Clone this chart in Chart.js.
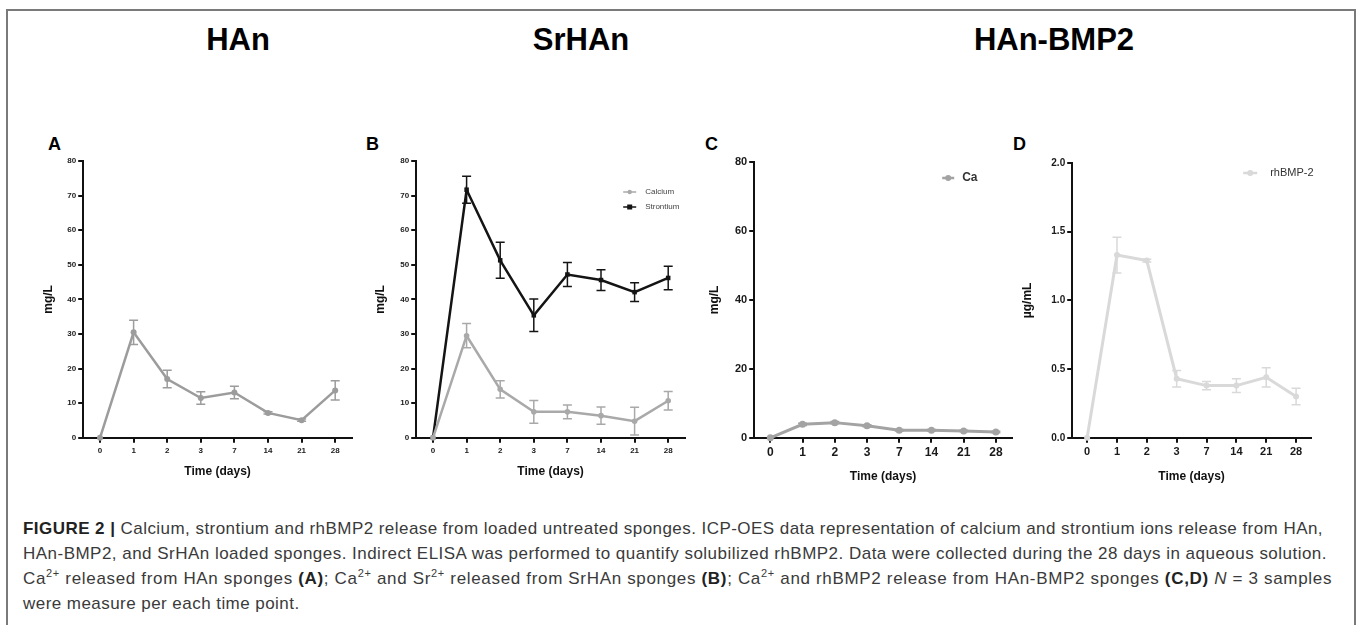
<!DOCTYPE html>
<html>
<head>
<meta charset="utf-8">
<script src="https://cdn.jsdelivr.net/npm/chart.js@4.4.0/dist/chart.umd.min.js"></script>
<style>
  html, body { margin: 0; padding: 0; background: #fff; }
  body { width: 1358px; height: 625px; position: relative; overflow: hidden; font-family: "Liberation Sans", Arial, sans-serif; }
  .frame { position: absolute; left: 6px; top: 9px; width: 1346px; height: 700px; border: 2px solid #7a7a7a; border-bottom: none; }
  .ttl { position: absolute; width: 300px; margin-left: -150px; text-align: center; font-weight: bold; font-size: 31px; line-height: 31px; top: 24px; color: #000; }
  .lbl { position: absolute; font-weight: bold; font-size: 18px; line-height: 18px; top: 135px; color: #000; }
  canvas { position: absolute; }
  .cap { position: absolute; left: 23px; top: 516px; font-size: 17px; line-height: 25px; color: #3a3a3a; }
  .cap div { white-space: nowrap; height: 25px; width: max-content; }
  .cap b { color: #222; }
  .cap sup { font-size: 11px; line-height: 0; vertical-align: 7px; }
</style>
</head>
<body>
<div class="frame"></div>

<div class="ttl" style="left:238px">HAn</div>
<div class="ttl" style="left:581px">SrHAn</div>
<div class="ttl" style="left:1054px">HAn-BMP2</div>

<div class="lbl" style="left:48px">A</div>
<div class="lbl" style="left:366px">B</div>
<div class="lbl" style="left:705px">C</div>
<div class="lbl" style="left:1013px">D</div>

<canvas id="chartA"></canvas>
<canvas id="chartB"></canvas>
<canvas id="chartC"></canvas>
<canvas id="chartD"></canvas>

<div class="cap">
  <div class="fit" data-w="1300"><b>FIGURE 2 |</b> Calcium, strontium and rhBMP2 release from loaded untreated sponges. ICP-OES data representation of calcium and strontium ions release from HAn,</div>
  <div class="fit" data-w="1304">HAn-BMP2, and SrHAn loaded sponges. Indirect ELISA was performed to quantify solubilized rhBMP2. Data were collected during the 28 days in aqueous solution.</div>
  <div class="fit" data-w="1309">Ca<sup>2+</sup> released from HAn sponges <b>(A)</b>; Ca<sup>2+</sup> and Sr<sup>2+</sup> released from SrHAn sponges <b>(B)</b>; Ca<sup>2+</sup> and rhBMP2 release from HAn-BMP2 sponges <b>(C,D)</b> <i>N</i> = 3 samples</div>
  <div class="fit-last">were measure per each time point.</div>
</div>

<script>
// --- Data ---
const days = ['0', '1', '2', '3', '7', '14', '21', '28'];

// A: HAn, calcium (mg/L)
const hanCalcium = [0, 30.5, 17.0, 11.5, 13.1, 7.2, 5.1, 13.7];
const hanCalciumSd = [0, 3.5, 2.5, 1.8, 1.8, 0.3, 0.3, 2.8];

// B: SrHAn, calcium and strontium (mg/L)
const srCalcium = [0, 29.5, 14.0, 7.5, 7.5, 6.4, 4.8, 10.7];
const srCalciumSd = [0, 3.5, 2.5, 3.3, 2.0, 2.5, 4.0, 2.7];
const srStrontium = [0, 71.7, 51.3, 35.4, 47.2, 45.6, 42.1, 46.2];
const srStrontiumSd = [0, 3.9, 5.2, 4.7, 3.5, 3.0, 2.7, 3.4];

// C: HAn-BMP2, calcium (mg/L)
const bmpCalcium = [0, 3.9, 4.4, 3.5, 2.2, 2.2, 2.0, 1.7];
const bmpCalciumSd = [0, 0.3, 0.3, 0.3, 0.2, 0.2, 0.2, 0.2];

// D: HAn-BMP2, rhBMP-2 (ug/mL)
const bmpRh = [0, 1.33, 1.29, 0.43, 0.38, 0.38, 0.44, 0.30];
const bmpRhSd = [0, 0.13, 0.01, 0.06, 0.03, 0.05, 0.07, 0.06];

// y tick values
const ticksAB = [0, 10, 20, 30, 40, 50, 60, 70, 80];
const ticksC = [0, 20, 40, 60, 80];
const ticksD = [0, 0.5, 1.0, 1.5, 2.0];

Chart.defaults.font.family = "'Liberation Sans', Arial, sans-serif";

// error bars (mean +/- sd) drawn with the y scale
const errorBars = {
    id: 'errorBars',
    beforeDatasetsDraw(chart) {
        const { ctx } = chart;
        const y = chart.scales.y;
        chart.data.datasets.forEach((ds, di) => {
            if (!ds.errors) return;
            const meta = chart.getDatasetMeta(di);
            ctx.save();
            ctx.strokeStyle = ds.borderColor;
            ctx.lineWidth = 1.5;
            meta.data.forEach((pt, i) => {
                const e = ds.errors[i];
                if (!e) return;
                const top = y.getPixelForValue(ds.data[i] + e);
                const bot = y.getPixelForValue(ds.data[i] - e);
                ctx.beginPath();
                ctx.moveTo(pt.x, top); ctx.lineTo(pt.x, bot);
                ctx.moveTo(pt.x - 4.5, top); ctx.lineTo(pt.x + 4.5, top);
                ctx.moveTo(pt.x - 4.5, bot); ctx.lineTo(pt.x + 4.5, bot);
                ctx.stroke();
            });
            ctx.restore();
        });
    }
};

// small legend inside the plot, top right
const innerLegend = {
    id: 'innerLegend',
    afterDatasetsDraw(chart, args, o) {
        if (!o.show) return;
        const { ctx, chartArea } = chart;
        chart.data.datasets.forEach((ds, i) => {
            const x = chartArea.left + o.x;
            const y = chartArea.top + o.y + i * o.gap;
            ctx.save();
            ctx.strokeStyle = ds.borderColor;
            ctx.lineWidth = o.lineWidth;
            ctx.beginPath();
            ctx.moveTo(x, y); ctx.lineTo(x + o.len, y);
            ctx.stroke();
            ctx.fillStyle = ds.borderColor;
            const mx = x + o.len / 2;
            if (ds.pointStyle === 'rect') {
                ctx.fillRect(mx - 2.5, y - 2.5, 5, 5);
            } else {
                ctx.beginPath(); ctx.arc(mx, y, o.r, 0, Math.PI * 2); ctx.fill();
            }
            ctx.fillStyle = o.color;
            ctx.font = o.font;
            ctx.textBaseline = 'middle';
            ctx.fillText(ds.label, x + o.len + o.pad, y);
            ctx.restore();
        });
    }
};

function makePanel(id, g, datasets, yTicks, yTitle, fonts, legend) {
    const canvas = document.getElementById(id);
    const half = 7.2; // half line height of the axis titles
    const cl = g.yTitleX - half;
    const ct = g.top - 10;
    const cr = g.right + 14;
    const cb = g.xTitleY + half;
    canvas.style.left = cl + 'px';
    canvas.style.top = ct + 'px';
    canvas.width = cr - cl;
    canvas.height = cb - ct;

    new Chart(canvas, {
        type: 'line',
        data: { labels: days, datasets: datasets },
        plugins: [errorBars, innerLegend],
        options: {
            responsive: false,
            animation: false,
            devicePixelRatio: 1,
            events: [],
            layout: { padding: { top: 10, right: 14, left: 0, bottom: 0 } },
            plugins: {
                legend: { display: false },
                tooltip: { enabled: false },
                innerLegend: legend || { show: false }
            },
            scales: {
                x: {
                    offset: true,
                    grid: { drawOnChartArea: false, tickLength: 5, color: '#111', lineWidth: 2 },
                    border: { color: '#111', width: 2 },
                    ticks: { font: { size: fonts.x, weight: 'bold' }, color: '#1a1a1a', padding: 3, maxRotation: 0, autoSkip: false },
                    title: { display: true, text: 'Time (days)', font: { size: 12, weight: 'bold' }, color: '#111', padding: 0 },
                    afterFit: s => { s.height = g.xTitleY + half - g.bottom; }
                },
                y: {
                    min: yTicks[0],
                    max: yTicks[yTicks.length - 1],
                    afterBuildTicks: s => { s.ticks = yTicks.map(v => ({ value: v })); },
                    grid: { drawOnChartArea: false, tickLength: 5, color: '#111', lineWidth: 2 },
                    border: { color: '#111', width: 2 },
                    ticks: {
                        font: { size: fonts.y, weight: 'bold' }, color: '#1a1a1a', padding: 2,
                        callback: v => fonts.dec ? v.toFixed(1) : v
                    },
                    title: { display: true, text: yTitle, font: { size: 12, weight: 'bold' }, color: '#111', padding: 0 },
                    afterFit: s => { s.width = g.left - cl; }
                }
            }
        }
    });
}

function line(label, data, errors, color, width, radius, style) {
    return {
        label: label, data: data, errors: errors,
        borderColor: color, backgroundColor: color,
        borderWidth: width, pointRadius: radius, pointBorderWidth: 0,
        pointStyle: style || 'circle', tension: 0, clip: false
    };
}

// A
makePanel('chartA',
    { left: 83, right: 352, top: 161, bottom: 438, yTitleX: 48, xTitleY: 472 },
    [line('Calcium', hanCalcium, hanCalciumSd, '#9c9c9c', 2.5, 3)],
    ticksAB, 'mg/L', { x: 8, y: 8 });

// B
makePanel('chartB',
    { left: 416, right: 685, top: 161, bottom: 438, yTitleX: 380, xTitleY: 472 },
    [line('Calcium', srCalcium, srCalciumSd, '#a9a9a9', 2.5, 2.8),
     line('Strontium', srStrontium, srStrontiumSd, '#141414', 2.5, 3.2, 'rect')],
    ticksAB, 'mg/L', { x: 8, y: 8 },
    { show: true, x: 207, y: 31, gap: 15, len: 13, pad: 9, r: 2.2, lineWidth: 1.5, font: '8px "Liberation Sans", Arial', color: '#444' });

// C
makePanel('chartC',
    { left: 754, right: 1012, top: 162, bottom: 438, yTitleX: 714, xTitleY: 477 },
    [line('Ca', bmpCalcium, bmpCalciumSd, '#a3a3a3', 3, 3.5)],
    ticksC, 'mg/L', { x: 12, y: 11 },
    { show: true, x: 188, y: 16, gap: 0, len: 12, pad: 8, r: 3, lineWidth: 2.5, font: 'bold 12px "Liberation Sans", Arial', color: '#333' });

// D
makePanel('chartD',
    { left: 1072, right: 1311, top: 163, bottom: 438, yTitleX: 1027, xTitleY: 477 },
    [line('rhBMP-2', bmpRh, bmpRhSd, '#d9d9d9', 3, 3)],
    ticksD, 'µg/mL', { x: 11, y: 10, dec: true },
    { show: true, x: 171, y: 10, gap: 0, len: 14, pad: 13, r: 3, lineWidth: 2.5, font: '11px "Liberation Sans", Arial', color: '#333' });

// stretch the caption lines to the widths in the figure
let spacing = 0;
document.querySelectorAll('.cap .fit').forEach((el, i) => {
    const w = el.getBoundingClientRect().width;
    const n = el.textContent.length;
    const ls = (parseFloat(el.dataset.w) - w) / n;
    el.style.letterSpacing = ls + 'px';
    if (i === 0) spacing = ls;
});
document.querySelector('.cap .fit-last').style.letterSpacing = spacing + 'px';
</script>
</body>
</html>
